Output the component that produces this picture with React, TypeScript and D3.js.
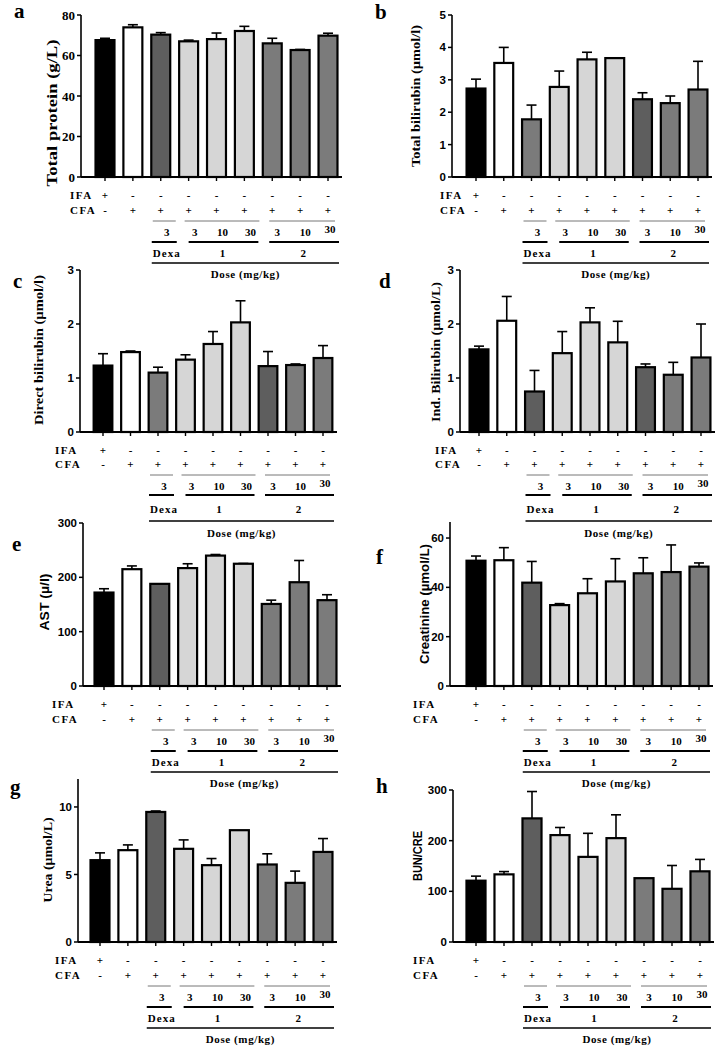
import React from "react";
import * as d3 from "d3";

const categories = ["IFA", "CFA", "Dexa3", "D1_3", "D1_10", "D1_30", "D2_3", "D2_10", "D2_30"];
const ifaRow = ["+", "-", "-", "-", "-", "-", "-", "-", "-"];
const cfaRow = ["-", "+", "+", "+", "+", "+", "+", "+", "+"];
const doseNumbers = ["3", "3", "10", "30", "3", "10", "30"];
const groupNames = ["Dexa", "1", "2"];

const proteinMean = [67.6, 73.9, 70.3, 67.0, 68.1, 72.1, 66.0, 62.7, 69.8];
const proteinTop = [68.5, 75.2, 71.3, 67.6, 71.1, 74.4, 68.5, 63.0, 71.0];
const totBiliMean = [2.73, 3.52, 1.78, 2.78, 3.63, 3.67, 2.4, 2.28, 2.7];
const totBiliTop = [3.02, 4.0, 2.22, 3.27, 3.85, 3.67, 2.6, 2.5, 3.57];
const dirBiliMean = [1.23, 1.48, 1.1, 1.34, 1.63, 2.03, 1.22, 1.24, 1.37];
const dirBiliTop = [1.45, 1.5, 1.2, 1.43, 1.86, 2.43, 1.49, 1.26, 1.6];
const indBiliMean = [1.53, 2.06, 0.75, 1.46, 2.03, 1.66, 1.2, 1.06, 1.38];
const indBiliTop = [1.59, 2.51, 1.14, 1.86, 2.3, 2.05, 1.26, 1.29, 2.0];
const astMean = [172, 215, 188, 217, 240, 225, 151, 191, 158];
const astTop = [179, 221, 188, 225, 242, 225.5, 158, 231, 168];
const creaMean = [50.8, 51.0, 41.9, 32.8, 37.6, 42.4, 45.7, 46.2, 48.4];
const creaTop = [52.7, 56.1, 50.5, 33.4, 43.5, 51.6, 52.0, 57.2, 49.9];
const ureaMean = [6.06, 6.8, 9.63, 6.9, 5.69, 8.28, 5.74, 4.38, 6.67];
const ureaTop = [6.6, 7.19, 9.7, 7.56, 6.18, 8.28, 6.53, 5.25, 7.66];
const bunMean = [121, 133.5, 244, 211, 168, 205, 126, 105, 139.5];
const bunTop = [130, 139, 297, 226, 214.5, 251, 126, 151, 163];

const C = { k: "#000000", w: "#ffffff", dk: "#5e5e5e", lt: "#d6d6d6", md: "#7b7b7b" };
const fillsA = ["k", "w", "dk", "lt", "lt", "lt", "md", "md", "md"];
const fillsB = ["k", "w", "md", "lt", "lt", "lt", "dk", "md", "md"];
const fillsD = ["k", "w", "dk", "lt", "lt", "lt", "dk", "md", "md"];

const SERIF = "'Liberation Serif', 'DejaVu Serif', serif";
const SANS = "'Liberation Sans', Arial, sans-serif";

const stdOff = { ifa: 22, cfa: 37, thin: 44, num: 59, thick: 65, dexa: 80, bottom: 86, dose: 101 };
const cdOff = { ifa: 22, cfa: 36, thin: 43, num: 58, thick: 63, dexa: 81, bottom: 89, dose: 105 };

const panels = [
  { letter: "a", lx: 14, ly: 18, axisX: 81, y0: 177, yTop: 15, max: 80, ticks: [0, 20, 40, 60, 80], xFirst: 105, xLast: 328, mean: proteinMean, top: proteinTop, fills: fillsA, label: "Total protein (g/L)", labX: 52, labY: 113, labLen: 147, labFont: SERIF, labSize: 14, tickFont: SERIF, tickSize: 13, rowX: 70, off: stdOff },
  { letter: "b", lx: 375, ly: 19, axisX: 452, y0: 177, yTop: 15, max: 5, ticks: [0, 1, 2, 3, 4, 5], xFirst: 476, xLast: 698, mean: totBiliMean, top: totBiliTop, fills: fillsB, label: "Total bilirubin (\u00b5mol/l)", labX: 415, labY: 96, labLen: 142, labFont: SERIF, labSize: 13, tickFont: SANS, tickSize: 11.5, rowX: 440, off: stdOff },
  { letter: "c", lx: 13, ly: 288, axisX: 80, y0: 432, yTop: 270, max: 3, ticks: [0, 1, 2, 3], xFirst: 103, xLast: 323, mean: dirBiliMean, top: dirBiliTop, fills: fillsB, label: "Direct bilirubin (\u00b5mol/l)", labX: 38, labY: 350, labLen: 150, labFont: SERIF, labSize: 13.5, tickFont: SANS, tickSize: 11.5, rowX: 55, off: cdOff },
  { letter: "d", lx: 379, ly: 288, axisX: 460, y0: 432, yTop: 270, max: 3, ticks: [0, 1, 2, 3], xFirst: 479, xLast: 701, mean: indBiliMean, top: indBiliTop, fills: fillsD, label: "Ind. Bilirubin (\u00b5mol/L)", labX: 435, labY: 352, labLen: 140, labFont: SERIF, labSize: 13, tickFont: SANS, tickSize: 11.5, rowX: 435, off: cdOff },
  { letter: "e", lx: 12, ly: 551, axisX: 83, y0: 686, yTop: 523, max: 300, ticks: [0, 100, 200, 300], xFirst: 104, xLast: 327, mean: astMean, top: astTop, fills: fillsA, label: "AST (\u00b5/l)", labX: 45, labY: 602, labLen: 57, labFont: SANS, labSize: 12.5, tickFont: SANS, tickSize: 11.5, rowX: 52, off: stdOff },
  { letter: "f", lx: 376, ly: 564, axisX: 450, y0: 686, yTop: 522, max: 66.5, ticks: [0, 20, 40, 60], xFirst: 476, xLast: 699, mean: creaMean, top: creaTop, fills: fillsA, label: "Creatinine (\u00b5mol/L)", labX: 425, labY: 604, labLen: 120, labFont: SANS, labSize: 12.5, tickFont: SANS, tickSize: 11.5, rowX: 413, off: stdOff },
  { letter: "g", lx: 10, ly: 794, axisX: 78, y0: 942, yTop: 779, max: 12.07, ticks: [0, 5, 10], xFirst: 100, xLast: 323, mean: ureaMean, top: ureaTop, fills: fillsA, label: "Urea (\u00b5mol/L)", labX: 48, labY: 860, labLen: 85, labFont: SERIF, labSize: 12.5, tickFont: SANS, tickSize: 11.5, rowX: 55, off: stdOff },
  { letter: "h", lx: 376, ly: 793, axisX: 453, y0: 942, yTop: 790, max: 300, ticks: [0, 100, 200, 300], xFirst: 476, xLast: 700, mean: bunMean, top: bunTop, fills: fillsA, label: "BUN/CRE", labX: 418, labY: 856, labLen: 50, labFont: SANS, labSize: 12.5, tickFont: SANS, tickSize: 11.5, rowX: 413, off: stdOff },
];

function Panel({ p }: { p: any }) {
  const x = d3.scalePoint<string>().domain(categories).range([p.xFirst, p.xLast]);
  const s = x.step();
  const y = d3.scaleLinear().domain([0, p.max]).range([p.y0, p.yTop]);
  const bw = s * 0.68;
  const cx = categories.map((c) => x(c) as number);
  const o = p.off;
  const rowStyle = { fontFamily: SERIF, fontWeight: 700, fontSize: 11 } as any;
  const axisEnd = cx[8] + 14;
  const thin = [
    [cx[2] - 8, cx[2] + 15],
    [cx[3] - 4, cx[5] + 15],
    [cx[6] - 3, cx[8] + 7],
  ];
  const thick = [
    [cx[2] - 9, cx[2] + 16],
    [cx[3], cx[5] + 14],
    [cx[6] - 3, cx[8] + 11],
  ];
  const numX = [cx[2] + 6, cx[3] + 6, cx[4] + 6, cx[5] + 6, cx[6] + 5, cx[7] + 5, cx[8] + 2];
  const numDy = [0, 0, 0, 0, 0, 0, -3];
  const groupX = [cx[2] + 6, cx[4] + 6, cx[7] + 3];
  return (
    <g>
      <text x={p.lx} y={p.ly} fontFamily={SERIF} fontWeight={700} fontSize={21}>{p.letter}</text>
      {categories.map((c, i) => (
        <g key={c}>
          {p.top[i] > p.mean[i] && (
            <g stroke="#000" strokeWidth={1.6}>
              <line x1={cx[i]} x2={cx[i]} y1={y(p.mean[i])} y2={y(p.top[i])} />
              <line x1={cx[i] - 5} x2={cx[i] + 5} y1={y(p.top[i])} y2={y(p.top[i])} />
            </g>
          )}
          <rect x={cx[i] - bw / 2} y={y(p.mean[i])} width={bw} height={p.y0 - y(p.mean[i])} fill={(C as any)[p.fills[i]]} stroke="#000" strokeWidth={2.2} />
        </g>
      ))}
      <line x1={p.axisX} x2={p.axisX} y1={p.yTop} y2={p.y0} stroke="#000" strokeWidth={1.6} />
      {p.ticks.map((t: number) => (
        <g key={t}>
          <line x1={p.axisX - 4} x2={p.axisX} y1={y(t)} y2={y(t)} stroke="#000" strokeWidth={1.5} />
          <text x={p.axisX - 6} y={y(t)} dy="0.35em" textAnchor="end" fontFamily={p.tickFont} fontWeight={700} fontSize={p.tickSize}>{t}</text>
        </g>
      ))}
      <line x1={p.axisX} x2={axisEnd} y1={p.y0} y2={p.y0} stroke="#000" strokeWidth={2} />
      {cx.map((v, i) => (
        <line key={i} x1={v} x2={v} y1={p.y0} y2={p.y0 + 4} stroke="#000" strokeWidth={1.4} />
      ))}
      <text transform={`translate(${p.labX},${p.labY}) rotate(-90)`} textAnchor="middle" dy="0.35em" fontFamily={p.labFont} fontWeight={700} fontSize={p.labSize} textLength={p.labLen} lengthAdjust="spacingAndGlyphs">{p.label}</text>
      <text x={p.rowX} y={p.y0 + o.ifa} style={rowStyle} letterSpacing={1.5}>IFA</text>
      <text x={p.rowX} y={p.y0 + o.cfa} style={rowStyle} letterSpacing={1.5}>CFA</text>
      {ifaRow.map((v, i) => (
        <text key={"i" + i} x={cx[i]} y={p.y0 + o.ifa} textAnchor="middle" style={rowStyle}>{v}</text>
      ))}
      {cfaRow.map((v, i) => (
        <text key={"c" + i} x={cx[i]} y={p.y0 + o.cfa} textAnchor="middle" style={rowStyle}>{v}</text>
      ))}
      {thin.map((r, i) => (
        <line key={"t" + i} x1={r[0]} x2={r[1]} y1={p.y0 + o.thin} y2={p.y0 + o.thin} stroke="#777" strokeWidth={1} />
      ))}
      {doseNumbers.map((v, i) => (
        <text key={"n" + i} x={numX[i]} y={p.y0 + o.num + numDy[i]} textAnchor="middle" style={rowStyle}>{v}</text>
      ))}
      {thick.map((r, i) => (
        <line key={"k" + i} x1={r[0]} x2={r[1]} y1={p.y0 + o.thick} y2={p.y0 + o.thick} stroke="#000" strokeWidth={2} />
      ))}
      {groupNames.map((v, i) => (
        <text key={"g" + i} x={groupX[i]} y={p.y0 + o.dexa} textAnchor="middle" style={rowStyle} letterSpacing={i === 0 ? 1 : 0}>{v}</text>
      ))}
      <line x1={cx[2] - 9} x2={cx[8] + 11} y1={p.y0 + o.bottom} y2={p.y0 + o.bottom} stroke="#000" strokeWidth={1.4} />
      <text x={(cx[2] - 9 + cx[8] + 11) / 2} y={p.y0 + o.dose} textAnchor="middle" style={rowStyle} letterSpacing={0.6}>Dose (mg/kg)</text>
    </g>
  );
}

export default function App() {
  return (
    <svg width={726} height={1050} style={{ position: "absolute", left: 0, top: 0, background: "#fff" }}>
      <rect width={726} height={1050} fill="#fff" />
      {panels.map((p) => (
        <Panel key={p.letter} p={p} />
      ))}
    </svg>
  );
}
